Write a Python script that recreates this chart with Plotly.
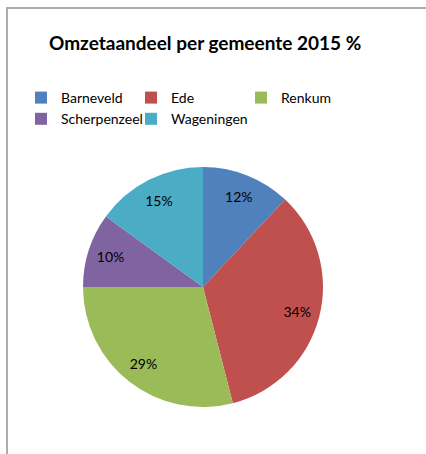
import plotly.graph_objects as go

labels = ["Barneveld", "Ede", "Renkum", "Scherpenzeel", "Wageningen"]
values = [12, 34, 29, 10, 15]
colors = ["#4F81BD", "#C0504D", "#9BBB59", "#8064A2", "#4BACC6"]
title_text = "Omzetaandeel per gemeente 2015 %"

W, H = 426, 454
FONT = "Lato"
dom = dict(x=[83 / W, 323 / W], y=[47 / H, 287 / H])

fig = go.Figure()
fig.add_trace(go.Pie(
    labels=labels,
    values=values,
    sort=False,
    direction="clockwise",
    rotation=0,
    marker=dict(colors=colors, line=dict(width=0)),
    textinfo="none",
    domain=dom,
    hoverinfo="label+percent",
))
# transparent ring used only to place the percentage labels
fig.add_trace(go.Pie(
    labels=labels,
    values=values,
    sort=False,
    direction="clockwise",
    rotation=0,
    hole=0.62,
    marker=dict(colors=["rgba(0,0,0,0)"] * len(labels), line=dict(width=0)),
    texttemplate="%{value}%",
    textposition="inside",
    insidetextorientation="horizontal",
    textfont=dict(family=FONT, size=14, color="#000000"),
    domain=dom,
    showlegend=False,
    hoverinfo="skip",
))

fig.update_layout(
    width=W, height=H,
    margin=dict(l=0, r=0, t=0, b=0),
    paper_bgcolor="white",
    plot_bgcolor="white",
    showlegend=True,
    legend=dict(
        orientation="h",
        x=21 / W, xanchor="left",
        y=1 - 82 / H, yanchor="top",
        entrywidth=65,
        entrywidthmode="pixels",
        font=dict(family=FONT, size=14, color="#000000"),
        itemclick=False, itemdoubleclick=False,
        bgcolor="rgba(0,0,0,0)",
    ),
    annotations=[dict(
        text="<b>" + title_text + "</b>",
        xref="paper", yref="paper",
        x=205 / W, y=1 - 43 / H,
        xanchor="center", yanchor="middle",
        showarrow=False,
        font=dict(family=FONT, size=19, color="#000000"),
    )],
    shapes=[dict(
        type="rect", xref="paper", yref="paper",
        x0=7 / W, x1=1.05, y0=-0.05, y1=1 - 8 / H,
        line=dict(color="#ADADAD", width=2),
        fillcolor="rgba(0,0,0,0)",
        layer="below",
    )],
)

fig.write_html(
    "out.html",
    config={"displayModeBar": False},
    post_script="document.body.style.margin='0';",
)
